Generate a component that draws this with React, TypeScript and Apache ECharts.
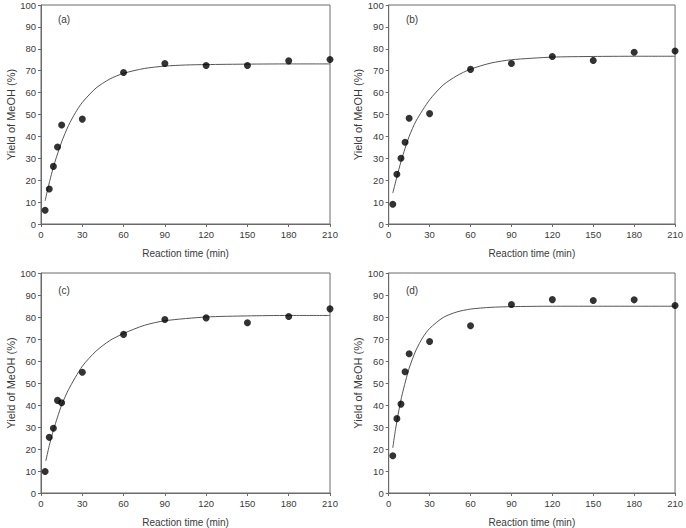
import React, { useEffect, useRef } from "react";
import * as echarts from "echarts";

// Measured reaction times (min)
const times = [3, 6, 9, 12, 15, 30, 60, 90, 120, 150, 180, 210];

// Measured yields of MeOH (%) for panels (a)-(d)
const yieldA = [6.3, 16.0, 26.3, 35.2, 45.2, 47.9, 69.2, 73.3, 72.4, 72.4, 74.5, 75.1];
const yieldB = [9.0, 22.7, 30.0, 37.3, 48.3, 50.4, 70.6, 73.3, 76.5, 74.7, 78.4, 79.0];
const yieldC = [9.8, 25.3, 29.4, 42.1, 41.0, 54.9, 72.1, 78.9, 79.6, 77.4, 80.2, 83.7];
const yieldD = [16.9, 33.8, 40.4, 55.1, 63.3, 68.9, 76.0, 85.7, 87.9, 87.5, 87.8, 85.2];

// Fitted curves
const curveTimesA = [3, 5, 7.5, 10, 15, 20, 25, 30, 40, 50, 60, 75, 90, 105, 120, 150, 180, 210];
const curveA = [10.6, 16.2, 22.5, 28.1, 37.5, 45.0, 50.8, 55.5, 62.1, 66.2, 68.8, 71.0, 72.1, 72.6, 72.8, 73.0, 73.1, 73.1];

const curveTimesB = [3, 6, 9, 12, 15, 20, 30, 40, 50, 60, 75, 90, 120, 150, 180, 210];
const curveB = [14.1, 21.5, 28.5, 34.5, 40.0, 47.0, 56.7, 63.5, 67.7, 70.7, 73.5, 75.0, 76.2, 76.5, 76.6, 76.6];

const curveTimesC = [3.5, 6, 9, 12, 15, 20, 30, 40, 50, 60, 75, 90, 120, 150, 180, 210];
const curveC = [14.6, 21.5, 28.5, 34.5, 40.0, 47.0, 57.6, 64.5, 69.3, 72.5, 76.2, 78.3, 80.0, 80.5, 80.7, 80.7];

const curveTimesD = [3, 5, 7.5, 10, 15, 20, 25, 30, 40, 50, 60, 75, 90, 120, 150, 180, 210];
const curveD = [20.5, 28.9, 37.7, 45.1, 56.7, 64.9, 70.7, 74.8, 79.8, 82.3, 83.6, 84.4, 84.7, 84.9, 84.9, 84.9, 84.9];

const panelLabels = ["(a)", "(b)", "(c)", "(d)"];
const xTitle = "Reaction time (min)";
const yTitle = "Yield of MeOH (%)";

const FONT = "'Liberation Sans', Arial, sans-serif";

export default function App() {
  const ref = useRef<HTMLDivElement>(null);

  useEffect(() => {
    if (!ref.current) return;
    const chart = echarts.init(ref.current, null, { renderer: "svg" });

    const grids = [
      { left: 41, top: 2.5, width: 289, height: 221.5 },
      { left: 388.7, top: 2.5, width: 288.6, height: 221.5 },
      { left: 41, top: 273, width: 289, height: 221 },
      { left: 388.7, top: 273, width: 288.6, height: 221 },
    ];

    const pointsSets = [yieldA, yieldB, yieldC, yieldD];
    const curveSets = [
      [curveTimesA, curveA],
      [curveTimesB, curveB],
      [curveTimesC, curveC],
      [curveTimesD, curveD],
    ];

    const axisColor = "#6a6a6a";
    const textColor = "#3a3a3a";

    const xAxis = grids.map((_, i) => ({
      type: "value",
      gridIndex: i,
      min: 0,
      max: 210,
      interval: 30,
      name: xTitle,
      nameLocation: "middle",
      nameGap: 24,
      nameTextStyle: { fontFamily: FONT, fontSize: 10, color: textColor },
      axisLine: { show: true, onZero: false, lineStyle: { color: axisColor, width: 1 } },
      axisTick: { show: true, inside: false, length: 3, lineStyle: { color: axisColor } },
      axisLabel: { fontFamily: FONT, fontSize: 9.5, color: textColor, margin: 5 },
      splitLine: { show: false },
    }));

    const yAxis = grids.map((_, i) => ({
      type: "value",
      gridIndex: i,
      min: 0,
      max: 100,
      interval: 10,
      name: yTitle,
      nameLocation: "middle",
      nameGap: 25,
      nameRotate: 90,
      nameTextStyle: { fontFamily: FONT, fontSize: 11, color: textColor },
      axisLine: { show: true, onZero: false, lineStyle: { color: axisColor, width: 1 } },
      axisTick: { show: true, inside: false, length: 3, lineStyle: { color: axisColor } },
      axisLabel: { fontFamily: FONT, fontSize: 9.5, color: textColor, margin: 5 },
      splitLine: { show: false },
    }));

    const series: any[] = [];
    grids.forEach((_, i) => {
      const [ct, cv] = curveSets[i];
      series.push({
        type: "line",
        xAxisIndex: i,
        yAxisIndex: i,
        data: ct.map((t, j) => [t, cv[j]]),
        smooth: 0.25,
        showSymbol: false,
        symbol: "none",
        lineStyle: { color: "#555", width: 1 },
        z: 2,
      });
      series.push({
        type: "scatter",
        xAxisIndex: i,
        yAxisIndex: i,
        data: times.map((t, j) => [t, pointsSets[i][j]]),
        symbol: "circle",
        symbolSize: 7,
        itemStyle: { color: "#000" },
        z: 3,
      });
    });

    const labelPos = [
      [64, 19],
      [412, 19],
      [64, 290],
      [412, 290],
    ];

    chart.setOption({
      animation: false,
      backgroundColor: "#fff",
      grid: grids.map((g) => ({
        ...g,
        show: true,
        borderColor: axisColor,
        borderWidth: 1,
        backgroundColor: "transparent",
        containLabel: false,
      })),
      xAxis,
      yAxis,
      series,
      graphic: panelLabels.map((txt, i) => ({
        type: "text",
        x: labelPos[i][0],
        y: labelPos[i][1],
        style: {
          text: txt,
          fontFamily: FONT,
          fontSize: 10,
          fill: textColor,
          textAlign: "center",
          textVerticalAlign: "middle",
        },
      })),
    });

    return () => chart.dispose();
  }, []);

  return (
    <div
      ref={ref}
      style={{ position: "fixed", left: 0, top: 0, width: 686, height: 528 }}
    />
  );
}
